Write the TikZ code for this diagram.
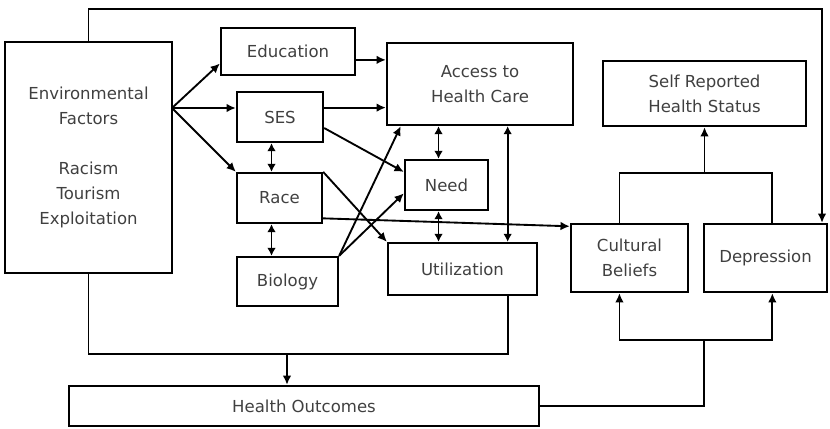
\documentclass[tikz,border=0pt]{standalone}
\usepackage{fontspec}
\setmainfont{DejaVu Sans}
\usetikzlibrary{arrows.meta}

\begin{document}
\begin{tikzpicture}[x=0.75pt, y=-0.75pt]
 \tikzstyle{boite}=[rectangle, draw, line width=1.7pt, text=black!75, align=center, inner sep=0pt, font=\fontsize{12.4}{18.75}\selectfont]
 \tikzstyle{fleche}=[->, >={Latex[length=7pt,width=6.5pt]}, line width=1.4pt]
 \tikzstyle{fleche2}=[<->, >={Latex[length=6pt,width=6.5pt]}, line width=1.4pt]
 \tikzstyle{lien}=[line width=1.4pt]
 \useasboundingbox (0,0) rectangle (830,428);
 %
 \node[boite, minimum width=167*0.75pt, minimum height=231*0.75pt] (env) at (88.5,157.5) {Environmental\\Factors\\[18.75pt]Racism\\Tourism\\Exploitation};
 %
 \node[boite, minimum width=134*0.75pt, minimum height=47*0.75pt] (edu) at (288,51.5) {Education};
 \node[boite, minimum width=86*0.75pt, minimum height=50*0.75pt] (ses) at (280,117) {SES};
 \node[boite, minimum width=85*0.75pt, minimum height=50*0.75pt] (race) at (279.5,198) {Race};
 \node[boite, minimum width=101*0.75pt, minimum height=49*0.75pt] (bio) at (287.5,281.5) {Biology};
 %
 \node[boite, minimum width=186*0.75pt, minimum height=82*0.75pt] (access) at (480,84) {Access to\\Health Care};
 \node[boite, minimum width=83*0.75pt, minimum height=50*0.75pt] (need) at (446.5,185) {Need};
 \node[boite, minimum width=149*0.75pt, minimum height=52*0.75pt] (util) at (462.5,269) {Utilization};
 %
 \node[boite, minimum width=203*0.75pt, minimum height=65*0.75pt] (self) at (704.5,93.5) {Self Reported\\Health Status};
 \node[boite, minimum width=117*0.75pt, minimum height=68*0.75pt] (cult) at (629.5,258) {Cultural\\Beliefs};
 \node[boite, minimum width=123*0.75pt, minimum height=68*0.75pt] (dep) at (765.5,258) {Depression};
 %
 \node[boite, minimum width=470*0.75pt, minimum height=40*0.75pt] (outc) at (304,406) {Health Outcomes};
 %%
 \coordinate (envout) at (172,108);
 \coordinate (haut) at (822,9);
 \coordinate (bas) at (287,354);
 \coordinate (fourche) at (704,340);
 \coordinate (jonction) at (704.5,173);
 %%
 \draw[fleche] (envout)--(edu.190);
 \draw[fleche] (envout)--(envout -| ses.west);
 \draw[fleche] (envout)--(race.north west);
 \draw[fleche] (edu.-7)--(edu.-7 -| access.west);
 \draw[fleche] (ses.12)--(ses.12 -| access.west);
 \draw[fleche] (ses.-14)--(need.163);
 \draw[fleche2] (ses.-108)--(ses.-108 |- race.north);
 \draw[fleche2] (race.-107)--(race.-107 |- bio.north);
 \draw[fleche] (race.north east)--(util.north west);
 \draw[fleche] (race.-25)--(cult.152);
 \draw[fleche] (bio.north east)--(access.208);
 \draw[fleche] (bio.north east)--(need.191);
 \draw[fleche2] (need.107)--(need.107 |- access.south);
 \draw[fleche2] (need.-107)--(need.-107 |- util.north);
 \draw[fleche2] (util.31)--(util.31 |- access.south);
 %
 \draw[lien] (cult.106) |- (jonction) -| (dep.79);
 \draw[fleche] (jonction)--(self.south);
 \draw[fleche] (env.north) |- (haut)--(haut |- dep.north);
 %
 \draw[lien] (env.south) |- (bas) -| (util.-31);
 \draw[fleche] (bas)--(bas |- outc.north);
 \draw[lien] (outc.east) -| (fourche);
 \draw[fleche] (fourche) -| (cult.-106);
 \draw[fleche] (fourche) -| (dep.-79);
\end{tikzpicture}
\end{document}
